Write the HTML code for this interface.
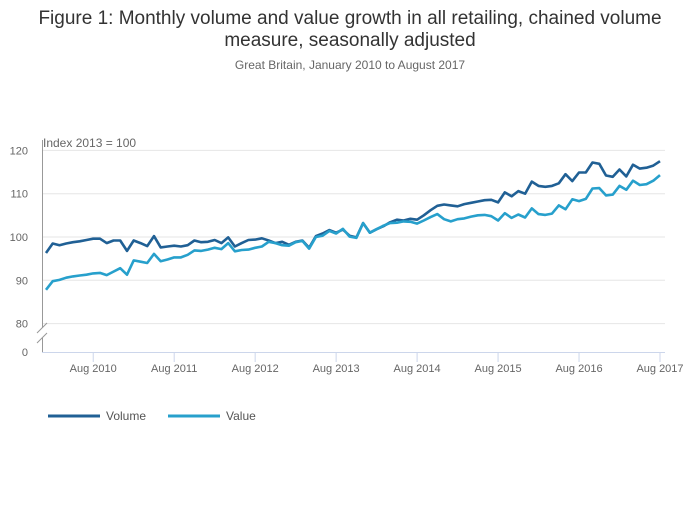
<!DOCTYPE html>
<html><head><meta charset="utf-8"><style>
body{margin:0;background:#fff;font-family:"Liberation Sans",sans-serif}
svg text{font-family:"Liberation Sans",sans-serif}
</style></head><body>
<svg width="700" height="502">
<text x="350" y="24" text-anchor="middle" font-size="19" fill="#333">Figure 1: Monthly volume and value growth in all retailing, chained volume</text>
<text x="350" y="46" text-anchor="middle" font-size="19" fill="#333">measure, seasonally adjusted</text>
<text x="350" y="69" text-anchor="middle" font-size="12" fill="#666">Great Britain, January 2010 to August 2017</text>
<text x="43" y="147" font-size="12" fill="#666">Index 2013 = 100</text>
<g id="grid"></g>
<g id="axes"></g>
<g id="series"></g>
<g>
<line x1="48" y1="416" x2="100" y2="416" stroke="#206095" stroke-width="3"/>
<text x="106" y="420" font-size="12" fill="#555">Volume</text>
<line x1="168" y1="416" x2="220" y2="416" stroke="#27a0cc" stroke-width="3"/>
<text x="226" y="420" font-size="12" fill="#555">Value</text>
</g>
</svg>
<script>
const yTicks=[80,90,100,110,120];
const xTickLabels=["Aug 2010","Aug 2011","Aug 2012","Aug 2013","Aug 2014","Aug 2015","Aug 2016","Aug 2017"];
const xTickMonths=[7,19,31,43,55,67,79,91];
const volume=[96.3,98.5,98.1,98.5,98.8,99.0,99.3,99.6,99.6,98.6,99.2,99.2,
96.8,99.2,98.6,97.9,100.2,97.6,97.8,98.0,97.8,98.1,99.2,98.8,
98.9,99.3,98.6,99.9,97.8,98.6,99.3,99.4,99.7,99.2,98.6,98.9,
98.2,98.9,99.2,97.5,100.2,100.8,101.6,101.0,101.7,100.3,99.9,103.2,
101.0,101.8,102.5,103.4,104.0,103.8,104.2,104.0,105.0,106.2,107.2,107.5,
107.3,107.1,107.6,107.9,108.2,108.5,108.6,108.0,110.3,109.4,110.6,110.0,
112.8,111.8,111.6,111.8,112.4,114.5,112.9,114.9,114.9,117.2,116.9,114.2,
113.9,115.6,114.0,116.7,115.8,116.0,116.5,117.5];
const value=[87.8,89.8,90.1,90.6,90.9,91.1,91.3,91.6,91.7,91.2,92.0,92.8,
91.3,94.6,94.3,94.0,96.1,94.4,94.8,95.3,95.3,95.9,96.9,96.8,
97.1,97.5,97.2,98.6,96.7,97.0,97.1,97.5,97.8,98.9,98.6,98.1,
98.0,98.8,99.1,97.3,100.0,100.3,101.4,100.8,101.9,100.1,99.8,103.2,
101.0,101.8,102.6,103.2,103.3,103.6,103.5,103.1,103.8,104.6,105.3,104.1,
103.6,104.1,104.3,104.7,105.0,105.1,104.8,103.8,105.5,104.4,105.2,104.5,
106.6,105.3,105.1,105.4,107.3,106.4,108.7,108.3,108.8,111.2,111.3,109.6,
109.8,111.8,110.9,113.0,112.0,112.2,113.0,114.3];
const NS='http://www.w3.org/2000/svg';
const x=m=>46+m*(614/91);
const y=v=>237-(v-100)*4.33;
function mk(t,a,p){const e=document.createElementNS(NS,t);for(const k in a)e.setAttribute(k,a[k]);p.appendChild(e);return e;}
const grid=document.getElementById('grid'),axes=document.getElementById('axes'),ser=document.getElementById('series');
yTicks.forEach(v=>{
 const l=mk('line',{x1:42,x2:665,y1:y(v),y2:y(v),stroke:'#e6e6e6','stroke-width':1},grid);
 
 
 const t=mk('text',{x:28,y:y(v)+4,'text-anchor':'end','font-size':11,fill:'#666'},axes);t.textContent=v;
 
 
});
let z=mk('text',{x:28,y:356,'text-anchor':'end','font-size':11,fill:'#666'},axes);z.textContent='0';


let ya=mk('path',{d:'M42.5 140V328M42.5 338V352',stroke:'#999',fill:'none'},axes);


let br=mk('path',{d:'M37 333L47 323M37 343L47 333',stroke:'#999',fill:'none'},axes);


let xa=mk('line',{x1:42,x2:665,y1:352.5,y2:352.5,stroke:'#ccd6eb'},axes);


xTickMonths.forEach((m,i)=>{
 const tk=mk('line',{x1:x(m),x2:x(m),y1:352,y2:362,stroke:'#ccd6eb'},axes);
 
 
 const t=mk('text',{x:x(m),y:372,'text-anchor':'middle','font-size':11,fill:'#666'},axes);t.textContent=xTickLabels[i];
 
 
});
function line(d,c,n){
 const p=mk('path',{d:d.map((v,i)=>(i?'L':'M')+x(i).toFixed(1)+' '+y(v).toFixed(1)).join(''),stroke:c,'stroke-width':2.6,fill:'none','stroke-linejoin':'round'},ser);
 
 
}
line(volume,'#206095','volume-line');
line(value,'#27a0cc','value-line');
</script>
</body></html>
